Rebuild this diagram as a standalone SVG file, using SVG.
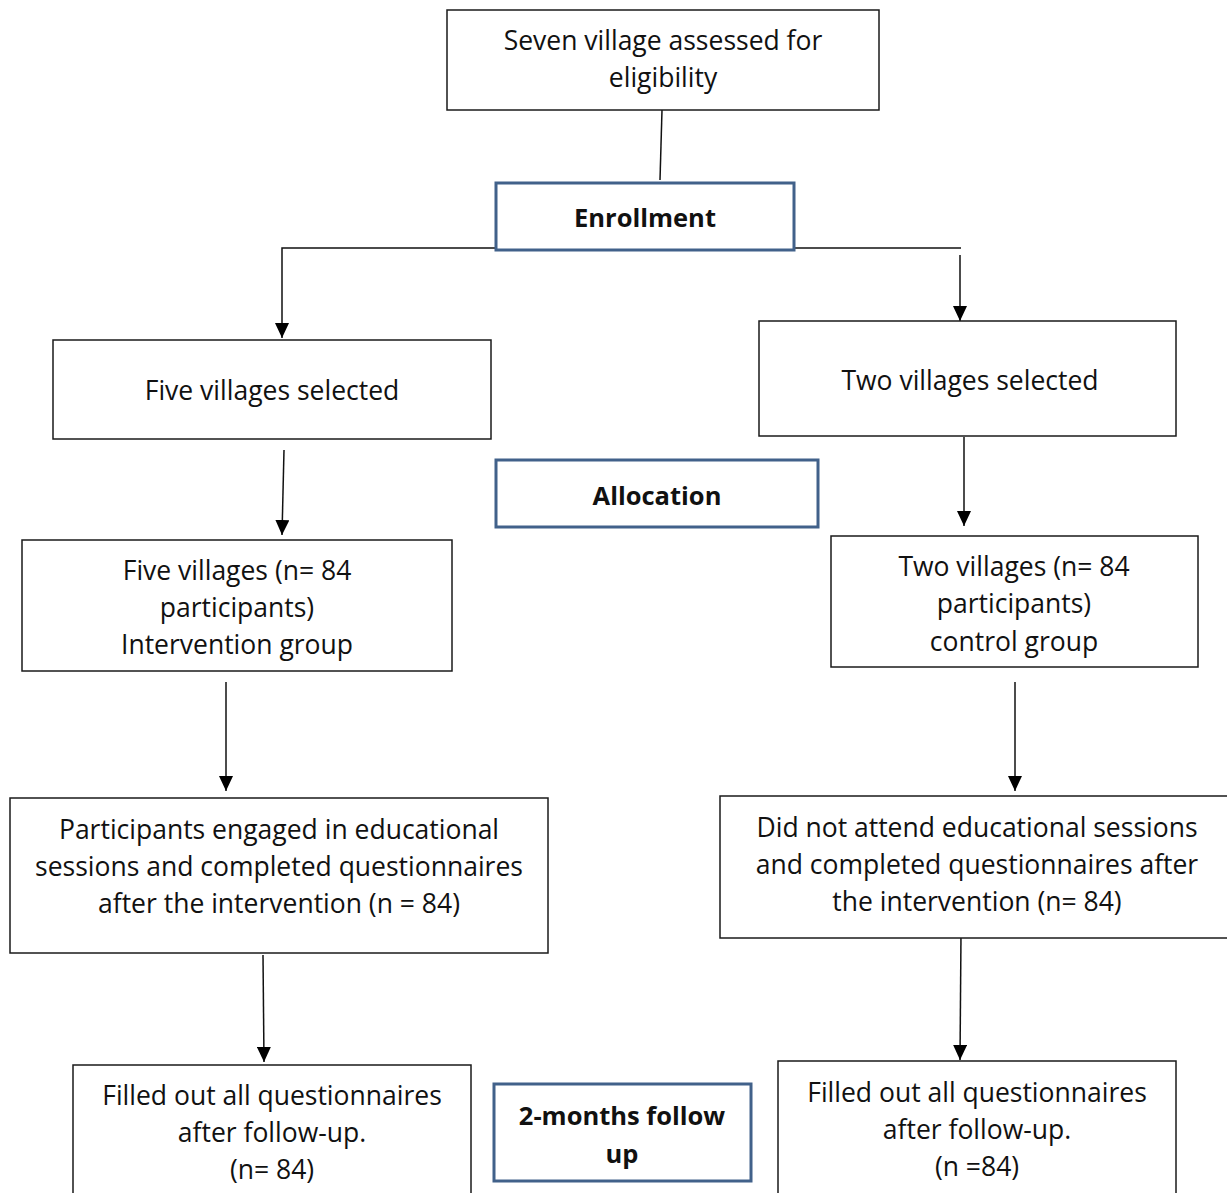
<svg xmlns="http://www.w3.org/2000/svg" width="1227" height="1193" viewBox="0 0 1227 1193">
<style>
.box{fill:#fff;stroke:#1a1a1a;stroke-width:1.5}
.stage{fill:#fff;stroke:#41618a;stroke-width:3}
.t{font-family:"Open Sans","Liberation Sans",sans-serif;font-size:26.5px;fill:#111;text-anchor:middle;dominant-baseline:central}
.b{font-family:"Open Sans","Liberation Sans",sans-serif;font-size:25.5px;font-weight:bold;fill:#111;text-anchor:middle;dominant-baseline:central}
.c{fill:none;stroke:#111;stroke-width:1.5}
</style>
<defs>
<marker id="ah" viewBox="0 0 15 14" refX="15" refY="7" markerWidth="15" markerHeight="14" markerUnits="userSpaceOnUse" orient="auto">
<path d="M0,0 L15,7 L0,14 Z" fill="#000"/>
</marker>
</defs>
<rect width="1227" height="1193" fill="#fff"/>
<g id="connectors">
<path class="c" d="M662,110 L660,180"/>
<path class="c" d="M496,248 L282,248 L282,338" marker-end="url(#ah)"/>
<path class="c" d="M794,248 L961,248"/>
<path class="c" d="M960,255 L960,321" marker-end="url(#ah)"/>
<path class="c" d="M284,450 L282,535" marker-end="url(#ah)"/>
<path class="c" d="M964,437 L964,526" marker-end="url(#ah)"/>
<path class="c" d="M226,682 L226,791" marker-end="url(#ah)"/>
<path class="c" d="M1015,682 L1015,791" marker-end="url(#ah)"/>
<path class="c" d="M263,955 L264,1062" marker-end="url(#ah)"/>
<path class="c" d="M961,934 L960,1060" marker-end="url(#ah)"/>
</g>
<g id="n-assessed">
<rect class="box" x="447" y="10" width="432" height="100"/>
<text class="t" x="663" y="40">Seven village assessed for</text>
<text class="t" x="663" y="77">eligibility</text>
</g>
<g id="n-enrollment">
<rect class="stage" x="496" y="183" width="298" height="67"/>
<text class="b" x="645" y="217">Enrollment</text>
</g>
<g id="n-five-selected">
<rect class="box" x="53" y="340" width="438" height="99"/>
<text class="t" x="272" y="390">Five villages selected</text>
</g>
<g id="n-two-selected">
<rect class="box" x="759" y="321" width="417" height="115"/>
<text class="t" x="970" y="380">Two villages selected</text>
</g>
<g id="n-allocation">
<rect class="stage" x="496" y="460" width="322" height="67"/>
<text class="b" x="657" y="495">Allocation</text>
</g>
<g id="n-intervention">
<rect class="box" x="22" y="540" width="430" height="131"/>
<text class="t" x="237" y="570">Five villages (n= 84</text>
<text class="t" x="237" y="607">participants)</text>
<text class="t" x="237" y="644">Intervention group</text>
</g>
<g id="n-control">
<rect class="box" x="831" y="536" width="367" height="131"/>
<text class="t" x="1014" y="566">Two villages (n= 84</text>
<text class="t" x="1014" y="603">participants)</text>
<text class="t" x="1014" y="641">control group</text>
</g>
<g id="n-engaged">
<rect class="box" x="10" y="798" width="538" height="155"/>
<text class="t" x="279" y="829">Participants engaged in educational</text>
<text class="t" x="279" y="866">sessions and completed questionnaires</text>
<text class="t" x="279" y="903">after the intervention (n = 84)</text>
</g>
<g id="n-not-attend">
<rect class="box" x="720" y="796" width="520" height="142"/>
<text class="t" x="977" y="827">Did not attend educational sessions</text>
<text class="t" x="977" y="864">and completed questionnaires after</text>
<text class="t" x="977" y="901">the intervention (n= 84)</text>
</g>
<g id="n-follow-left">
<rect class="box" x="73" y="1065" width="398" height="140"/>
<text class="t" x="272" y="1095">Filled out all questionnaires</text>
<text class="t" x="272" y="1132">after follow-up.</text>
<text class="t" x="272" y="1169">(n= 84)</text>
</g>
<g id="n-followup">
<rect class="stage" x="494" y="1084" width="257" height="97"/>
<text class="b" x="622" y="1115">2-months follow</text>
<text class="b" x="622" y="1153">up</text>
</g>
<g id="n-follow-right">
<rect class="box" x="778" y="1061" width="398" height="140"/>
<text class="t" x="977" y="1092">Filled out all questionnaires</text>
<text class="t" x="977" y="1129">after follow-up.</text>
<text class="t" x="977" y="1166">(n =84)</text>
</g>
</svg>
